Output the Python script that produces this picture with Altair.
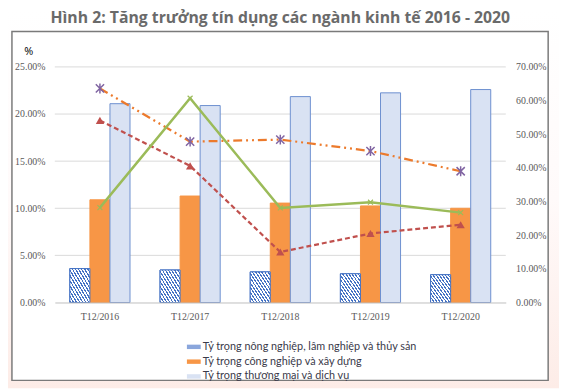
import altair as alt
import pandas as pd

# ---------------- data ----------------
years = ["T12/2016", "T12/2017", "T12/2018", "T12/2019", "T12/2020"]
series_names = [
    "Tỷ trọng nông nghiệp, lâm nghiệp và thủy sản",
    "Tỷ trọng công nghiệp và xây dựng",
    "Tỷ trọng thương mại và dịch vụ",
]
agri = [3.6, 3.45, 3.25, 3.05, 2.95]          # % (left axis)
industry = [10.9, 11.3, 10.55, 10.25, 10.0]   # % (left axis)
services = [21.1, 20.9, 21.85, 22.25, 22.6]   # % (left axis)

line_orange = [63.6, 47.8, 48.4, 45.0, 39.0]  # % (right axis)
line_red = [54.1, 40.6, 15.0, 20.5, 23.1]     # % (right axis)
line_green = [28.2, 60.7, 28.1, 29.8, 26.7]   # % (right axis)

left_ticks = [0, 5, 10, 15, 20, 25]
right_ticks = [0, 10, 20, 30, 40, 50, 60, 70]

# ---------------- tables ----------------
rows = []
for s, vals in zip(series_names, [agri, industry, services]):
    for y, v in zip(years, vals):
        rows.append({"year": y, "series": s, "value": v / 100})
bars_df = pd.DataFrame(rows)

lines_df = pd.DataFrame({
    "year": years,
    "a": [v / 100 for v in line_orange],
    "b": [v / 100 for v in line_red],
    "c": [v / 100 for v in line_green],
})
grid_df = pd.DataFrame({"t": [t / 100 for t in left_ticks[1:]]})

# ---------------- styles ----------------
SERIF = "Liberation Serif"
AX_COLOR = "#595959"

# diagonal hatch gradient
n = 13
stops = []
for i in range(n):
    a0 = i / n
    a1 = (i + 0.42) / n
    a2 = (i + 1) / n
    stops += [
        {"offset": a0, "color": "#4472c4"},
        {"offset": a1, "color": "#4472c4"},
        {"offset": a1, "color": "#ffffff"},
        {"offset": a2, "color": "#ffffff"},
    ]
hatch = alt.LinearGradient(gradient="linear", x1=0, y1=1, x2=1, y2=0, stops=stops)

bg_grad = alt.LinearGradient(
    gradient="linear", x1=0, y1=0, x2=0, y2=1,
    stops=[{"offset": 0, "color": "#ffffff"},
           {"offset": 0.5, "color": "#fffafa"},
           {"offset": 1, "color": "#fdece7"}],
)

x_enc = alt.X(
    "year:N", sort=years,
    scale=alt.Scale(domain=years, paddingInner=0.333, paddingOuter=0.1667),
    axis=alt.Axis(title=None, labelFont=SERIF, labelFontSize=10, labelColor=AX_COLOR,
                  labelPadding=9, ticks=False, domainColor="#bfbfbf", labelAngle=0,
                  zindex=1),
)
xoff_enc = alt.XOffset("series:N", sort=series_names,
                       scale=alt.Scale(domain=series_names, paddingInner=0, paddingOuter=0))

yscale_left = alt.Scale(domain=[0, 0.25])
left_axis = alt.Axis(
    title="%", titleAngle=0, titleX=-27, titleY=-11, titleAlign="center",
    titleFont="Noto Sans", titleFontSize=11, titleFontWeight="normal", titleColor="#111111",
    format=".2%", values=[t / 100 for t in left_ticks], labelOverlap=False,
    labelFont=SERIF, labelFontSize=10, labelColor=AX_COLOR, labelPadding=10,
    ticks=False, domain=False, grid=False, zindex=1,
)
right_axis = alt.Axis(
    title=None, orient="right", format=".2%", values=[t / 100 for t in right_ticks],
    labelOverlap=False,
    labelFont=SERIF, labelFontSize=10, labelColor=AX_COLOR, labelPadding=10,
    ticks=False, domain=False, grid=False, zindex=1,
)

one = alt.Data(values=[{}])
bg = alt.Chart(one).mark_rect(fill=bg_grad).encode(
    x=alt.value(-47.5), x2=alt.value(511.5), y=alt.value(-57), y2=alt.value(326))
frame = alt.Chart(one).mark_rect(fill="white", stroke="#7a7a7a", strokeWidth=1.5).encode(
    x=alt.value(-43.5), x2=alt.value(500.5), y=alt.value(-36), y2=alt.value(318))

grid = alt.Chart(grid_df).mark_rule(color="#d9d9d9", strokeWidth=1).encode(
    y=alt.Y("t:Q", scale=yscale_left, axis=left_axis))

bars = alt.Chart(bars_df).mark_bar(strokeWidth=1).encode(
    x=x_enc, xOffset=xoff_enc,
    y=alt.Y("value:Q", scale=yscale_left, axis=left_axis),
    fill=alt.Fill("series:N", sort=series_names,
                  scale=alt.Scale(domain=series_names, range=["#8aa6dc", "#f79646", "#d9e2f3"]),
                  legend=alt.Legend(
                      title=None, orient="none", legendX=134, legendY=277, direction="vertical",
                      symbolType="M-1,-0.32H1V0.32H-1Z", symbolSize=196, symbolStrokeWidth=0,
                      labelFont="Lato", labelFontSize=11, labelColor="#3a3a4a",
                      labelOffset=2, rowPadding=3, padding=0, labelLimit=400)),
    stroke=alt.Stroke("series:N", scale=alt.Scale(domain=series_names,
                      range=["#4472c4", "#f79646", "#6d8fcf"]), legend=None),
)
hatch_bars = alt.Chart(bars_df).transform_filter(
    alt.datum.series == series_names[0]
).mark_bar(fill=hatch, stroke="#4472c4", strokeWidth=1).encode(
    x=x_enc, xOffset=xoff_enc,
    y=alt.Y("value:Q", scale=yscale_left, axis=left_axis),
)

bar_layer = alt.layer(bg, frame, grid, bars, hatch_bars)

base = alt.Chart(lines_df)
ydom = alt.Scale(domain=[0, 0.7])
asterisk = "M-1,-1L1,1M1,-1L-1,1M0,-1.2L0,1.2"
xshape = "M-1,-1L1,1M1,-1L-1,1"

lo = base.mark_line(color="#ec7a2c", strokeWidth=2.25, strokeDash=[9, 4, 2, 4, 2, 4]).encode(
    x=x_enc, y=alt.Y("a:Q", scale=ydom, axis=right_axis))
lo_p = base.mark_point(shape=asterisk, size=70, color="#8064a2", strokeWidth=1.5, opacity=1).encode(
    x=x_enc, y=alt.Y("a:Q", scale=ydom, axis=right_axis))
lr = base.mark_line(color="#c0504d", strokeWidth=2.25, strokeDash=[5, 3]).encode(
    x=x_enc, y=alt.Y("b:Q", scale=ydom, axis=right_axis))
lr_p = base.mark_point(shape="triangle-up", size=70, color="#c0504d", filled=True, opacity=1).encode(
    x=x_enc, y=alt.Y("b:Q", scale=ydom, axis=right_axis))
lg = base.mark_line(color="#9bbb59", strokeWidth=2.5).encode(
    x=x_enc, y=alt.Y("c:Q", scale=ydom, axis=right_axis))
lg_p = base.mark_point(shape=xshape, size=25, color="#9bbb59", strokeWidth=1.2, opacity=1).encode(
    x=x_enc, y=alt.Y("c:Q", scale=ydom, axis=right_axis))

line_layer = alt.layer(lo, lr, lg, lo_p, lr_p, lg_p)

chart = alt.layer(bar_layer, line_layer).resolve_scale(y="independent").properties(
    width=457.5, height=239,
    title=alt.TitleParams(
        "Hình 2: Tăng trưởng tín dụng các ngành kinh tế 2016 - 2020",
        font="Open Sans", fontSize=16, fontWeight="bold", color="#6a6a6a",
        anchor="middle", offset=-15.5),
    autosize=alt.AutoSizeParams(type="none"),
    padding={"left": 47.5, "top": 57, "right": 54, "bottom": 87},
    background="white",
).configure_view(stroke=None)

chart.save("out.html", embed_options={"renderer": "svg", "actions": False})
